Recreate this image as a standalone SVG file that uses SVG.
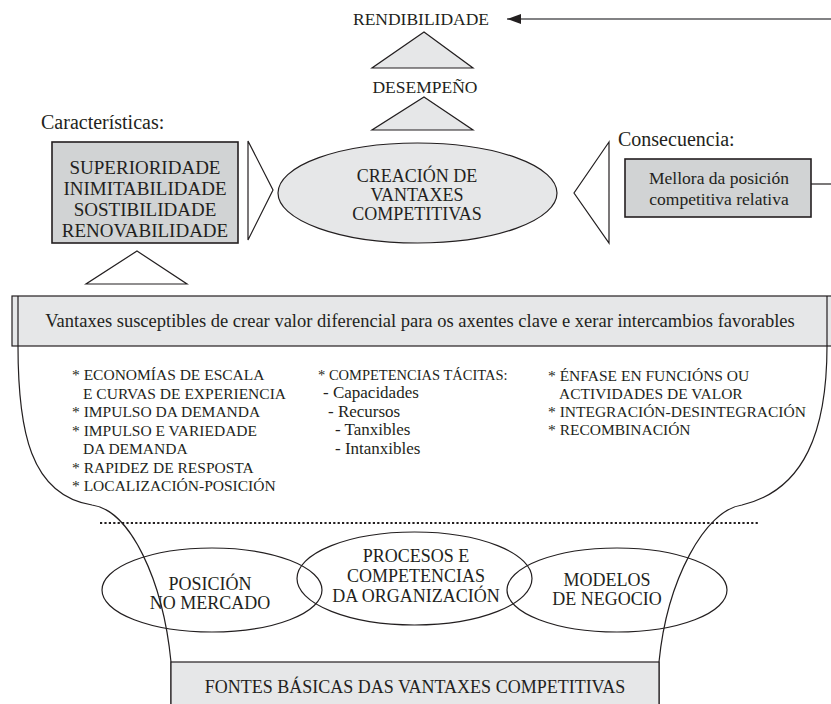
<svg xmlns="http://www.w3.org/2000/svg" width="831" height="704" viewBox="0 0 831 704" font-family="'Liberation Serif', 'Times New Roman', 'DejaVu Serif', serif">
<style>
text{font-family:"Liberation Serif","Times New Roman","DejaVu Serif",serif;fill:#231f20}
.c{text-anchor:middle}
.ln{fill:none;stroke:#231f20;stroke-width:1.2}
.lt{fill:#e6e7e8;stroke:#231f20;stroke-width:1.2}
.dk{fill:#d1d3d4;stroke:#231f20;stroke-width:1.6}
.wt{fill:#fff;stroke:#231f20;stroke-width:1.2}
.l1{font-size:15.5px}
.l2{font-size:17px}
</style>
<defs>
<marker id="ah" markerWidth="14" markerHeight="10" refX="14" refY="5" orient="auto" markerUnits="userSpaceOnUse"><path d="M0,0 L14,5 L0,10 Z" fill="#231f20"/></marker>
</defs>
<rect width="831" height="704" fill="#fff"/>

<g id="connectors">
<line x1="831" y1="19" x2="507" y2="19" stroke="#58595b" stroke-width="1.6" marker-end="url(#ah)"/>
<line x1="811" y1="184" x2="831" y2="184" class="ln"/>
<polygon points="424,32 473,68 372,68" class="lt"/>
<polygon points="424,97 473,130 372,130" class="lt"/>
<polygon points="248,141 273,190 248,240" class="wt"/>
<polygon points="609,142 574,193 609,243" class="wt"/>
<polygon points="137,251 187,284 86,284" class="wt"/>
</g>

<g id="rendibilidade"><text x="421" y="25" class="c" font-size="17.5">RENDIBILIDADE</text></g>
<g id="desempeno"><text x="425" y="93" class="c" font-size="17.5">DESEMPEÑO</text></g>

<g id="caracteristicas">
<text x="41" y="129" font-size="20">Características:</text>
<rect x="52" y="142" width="186" height="101" class="dk"/>
<text class="c" font-size="19"><tspan x="145" y="174">SUPERIORIDADE</tspan><tspan x="145" y="195">INIMITABILIDADE</tspan><tspan x="145" y="216">SOSTIBILIDADE</tspan><tspan x="145" y="237">RENOVABILIDADE</tspan></text>
</g>

<g id="creacion">
<ellipse cx="417.5" cy="193" rx="139.5" ry="50" class="lt"/>
<text class="c" font-size="18"><tspan x="417" y="182">CREACIÓN DE</tspan><tspan x="417" y="201">VANTAXES</tspan><tspan x="417" y="220">COMPETITIVAS</tspan></text>
</g>

<g id="consecuencia">
<text x="618" y="146" font-size="20">Consecuencia:</text>
<rect x="625" y="159" width="186" height="58" class="dk"/>
<text class="c" font-size="17.5"><tspan x="719" y="184">Mellora da posición</tspan><tspan x="719" y="205">competitiva relativa</tspan></text>
</g>

<g id="vantaxes">
<rect x="12" y="296" width="830" height="50" class="lt"/>
<line x1="18" y1="296" x2="18" y2="346" class="ln"/>
<line x1="827" y1="296" x2="827" y2="346" class="ln"/>
<text x="420" y="327" class="c" font-size="18.5">Vantaxes susceptibles de crear valor diferencial para os axentes clave e xerar intercambios favorables</text>
</g>

<g id="cup">
<path d="M18,346 C18,430 30,495 92,505 C130,510 163,580 171,662 L171,704" class="ln"/>
<path d="M827,346 C827,430 805,490 742,505 C705,510 667,580 659,662 L659,704" class="ln"/>
<line x1="100" y1="523" x2="758" y2="523" stroke="#231f20" stroke-width="2.2" stroke-dasharray="2.2,2.2"/>
</g>

<g id="lista-posicion" class="l1">
<text x="72" y="380">* ECONOMÍAS DE ESCALA</text>
<text x="83" y="398.5">E CURVAS DE EXPERIENCIA</text>
<text x="72" y="417">* IMPULSO DA  DEMANDA</text>
<text x="72" y="435.5">* IMPULSO E VARIEDADE</text>
<text x="83" y="454">DA DEMANDA</text>
<text x="72" y="472.5">* RAPIDEZ DE RESPOSTA</text>
<text x="72" y="491">* LOCALIZACIÓN-POSICIÓN</text>
</g>

<g id="lista-competencias">
<text x="318" y="380" font-size="14.5">* COMPETENCIAS TÁCITAS:</text>
<text x="323" y="398" class="l2">- Capacidades</text>
<text x="328" y="416.5" class="l2">- Recursos</text>
<text x="335" y="435" class="l2">- Tanxibles</text>
<text x="335" y="453.5" class="l2">- Intanxibles</text>
</g>

<g id="lista-modelos" class="l1">
<text x="548" y="381">* ÉNFASE EN FUNCIÓNS OU</text>
<text x="559" y="399">ACTIVIDADES DE VALOR</text>
<text x="548" y="417">* INTEGRACIÓN-DESINTEGRACIÓN</text>
<text x="548" y="435">* RECOMBINACIÓN</text>
</g>

<g id="posicion">
<ellipse cx="212" cy="590" rx="110" ry="42" class="ln"/>
<text class="c" font-size="18"><tspan x="210" y="590">POSICIÓN</tspan><tspan x="210" y="609">NO MERCADO</tspan></text>
</g>
<g id="procesos">
<ellipse cx="414.5" cy="578.5" rx="117.5" ry="46.5" class="ln"/>
<text class="c" font-size="18"><tspan x="416" y="562">PROCESOS E</tspan><tspan x="416" y="582">COMPETENCIAS</tspan><tspan x="416" y="602">DA ORGANIZACIÓN</tspan></text>
</g>
<g id="modelos">
<ellipse cx="617" cy="590" rx="110" ry="42" class="ln"/>
<text class="c" font-size="18"><tspan x="607" y="586">MODELOS</tspan><tspan x="607" y="605">DE NEGOCIO</tspan></text>
</g>

<g id="fontes">
<rect x="171" y="662" width="488" height="60" class="lt"/>
<text x="415" y="693" class="c" font-size="18">FONTES BÁSICAS DAS VANTAXES COMPETITIVAS</text>
</g>
</svg>
